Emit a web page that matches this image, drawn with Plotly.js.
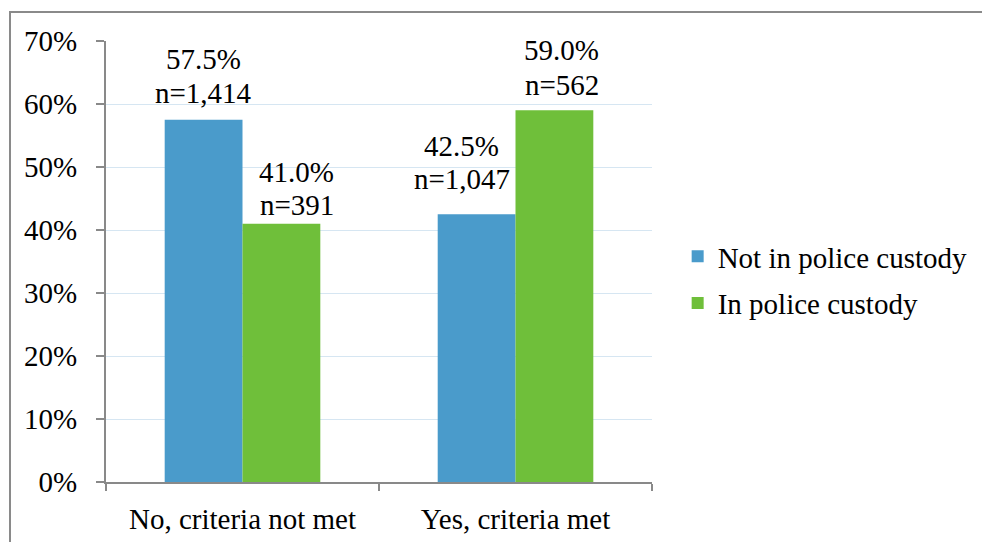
<!DOCTYPE html>
<html>
<head>
<meta charset="utf-8">
<script src="https://cdn.plot.ly/plotly-3.0.1.min.js"></script>
<style>
html,body{margin:0;padding:0;background:#fff;}
#chart{width:982px;height:542px;}
</style>
</head>
<body>
<div id="chart"></div>
<script>
const categories = ["No, criteria not met", "Yes, criteria met"];
const seriesNames = ["Not in police custody", "In police custody"];
const notCustody = [57.5, 42.5];
const notCustodyN = ["1,414", "1,047"];
const inCustody = [41.0, 59.0];
const inCustodyN = ["391", "562"];
const yTicks = [0, 10, 20, 30, 40, 50, 60, 70];

const FONT = "Liberation Serif";
const FS = 29;

const traces = [
  {
    type: "bar", name: seriesNames[0], x: categories, y: notCustody, legendgroup: "a",
    marker: {color: "#4A9BCB"}, hoverinfo: "none"
  },
  {
    type: "bar", name: seriesNames[1], x: categories, y: inCustody, legendgroup: "b",
    marker: {color: "#6FBF3A"}, hoverinfo: "none"
  }
];

// label placement (pixel offsets from the bar top, like the manually placed labels of the original)
const labelPlacement = [
  [{dx: -39, l1: 61, l2: 27}, {dx: -54, l1: 68, l2: 35}],
  [{dx: 54, l1: 52, l2: 19}, {dx: 46, l1: 60, l2: 25}]
];
const annotations = [];
[[notCustody, notCustodyN], [inCustody, inCustodyN]].forEach(([vals, ns], s) => {
  vals.forEach((v, i) => {
    const p = labelPlacement[s][i];
    const common = {xref: "x", yref: "y", x: categories[i], y: v, showarrow: false,
                    xanchor: "center", yanchor: "middle", xshift: p.dx,
                    font: {family: FONT, size: FS, color: "#000"}};
    annotations.push(Object.assign({}, common, {text: v.toFixed(1) + "%", yshift: p.l1}));
    annotations.push(Object.assign({}, common, {text: "n=" + ns[i], yshift: p.l2}));
  });
});

const layout = {
  width: 982, height: 542,
  margin: {l: 106, r: 330, t: 41, b: 60, autoexpand: false},
  paper_bgcolor: "#fff", plot_bgcolor: "#fff",
  font: {family: FONT, size: FS, color: "#000"},
  barmode: "group", bargap: 0.43, bargroupgap: 0,
  showlegend: true,
  legend: {x: 1.047, xanchor: "left", y: 0.458, yanchor: "middle", traceorder: "grouped",
           font: {family: FONT, size: FS, color: "#000"}, tracegroupgap: 6, itemwidth: 30},
  xaxis: {
    type: "category", showgrid: false, zeroline: false,
    showline: true, linecolor: "#898989", linewidth: 2,
    ticks: "outside", tickson: "boundaries", ticklen: 7, tickcolor: "#898989", tickwidth: 2,
    ticklabelstandoff: 10,
    tickfont: {family: FONT, size: FS, color: "#000"}
  },
  yaxis: {
    range: [0, 70], tickvals: yTicks, ticktext: yTicks.map(v => v + "%"),
    showgrid: true, gridcolor: "#D6E6F2", gridwidth: 1, zeroline: false,
    showline: true, linecolor: "#898989", linewidth: 2,
    ticks: "outside", ticklen: 8, tickcolor: "#898989", tickwidth: 2,
    ticklabelstandoff: 13,
    tickfont: {family: FONT, size: FS, color: "#000"}
  },
  annotations: annotations,
  shapes: [{
    type: "rect", xref: "paper", yref: "paper",
    x0: (10 - 106) / 546, x1: 2, y0: (482 - 12) / 441, y1: -1,
    line: {color: "#8A8A8A", width: 2}, fillcolor: "rgba(0,0,0,0)", layer: "below"
  }]
};

Plotly.newPlot("chart", traces, layout, {displayModeBar: false, staticPlot: true});
</script>
</body>
</html>
